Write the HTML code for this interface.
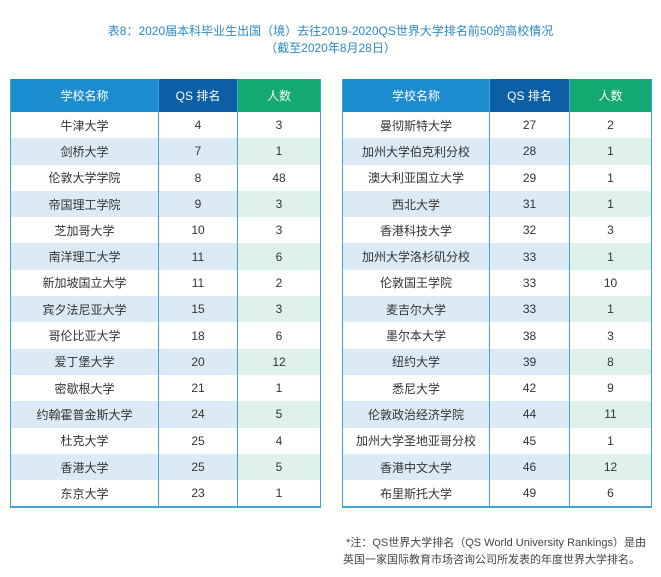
<!DOCTYPE html>
<html><head><meta charset="utf-8"><style>
body{margin:0;width:661px;height:577px;background:#fff;font-family:"Liberation Sans","Noto Sans CJK SC",sans-serif;position:relative;overflow:hidden}
.t{position:absolute;left:0;width:661px;text-align:center;color:#2b8ac6;font-size:12px}
table{position:absolute;top:79px;border-collapse:collapse;font-size:12px;color:#333}
td,th{height:26.3px;padding:0;text-align:center;border-left:1px solid #3fa3dc;border-right:1px solid #3fa3dc}
th{height:33px;color:#fff;font-weight:normal;font-size:12px}
th.a{background:#1b8dcf}th.b{background:#0c5fa5}th.c{background:#14a872}
tr.e td{background:#dbeaf5}tr.e td.c{background:#dff2ea}
table{border-bottom:2px solid #3fa3dc}
.n{position:absolute;left:343px;top:535px;font-size:11px;color:#444;line-height:17px;width:320px}
</style></head><body>
<div class="t" style="top:22px">表8：2020届本科毕业生出国（境）去往2019-2020QS世界大学排名前50的高校情况</div>
<div class="t" style="top:39px">（截至2020年8月28日）</div>
<table style="left:10px">
<tr><th class="a" style="width:147px">学校名称</th><th class="b" style="width:78px">QS 排名</th><th class="c" style="width:82px">人数</th></tr>
<tr><td>牛津大学</td><td>4</td><td class="c">3</td></tr>
<tr class="e"><td>剑桥大学</td><td>7</td><td class="c">1</td></tr>
<tr><td>伦敦大学学院</td><td>8</td><td class="c">48</td></tr>
<tr class="e"><td>帝国理工学院</td><td>9</td><td class="c">3</td></tr>
<tr><td>芝加哥大学</td><td>10</td><td class="c">3</td></tr>
<tr class="e"><td>南洋理工大学</td><td>11</td><td class="c">6</td></tr>
<tr><td>新加坡国立大学</td><td>11</td><td class="c">2</td></tr>
<tr class="e"><td>宾夕法尼亚大学</td><td>15</td><td class="c">3</td></tr>
<tr><td>哥伦比亚大学</td><td>18</td><td class="c">6</td></tr>
<tr class="e"><td>爱丁堡大学</td><td>20</td><td class="c">12</td></tr>
<tr><td>密歇根大学</td><td>21</td><td class="c">1</td></tr>
<tr class="e"><td>约翰霍普金斯大学</td><td>24</td><td class="c">5</td></tr>
<tr><td>杜克大学</td><td>25</td><td class="c">4</td></tr>
<tr class="e"><td>香港大学</td><td>25</td><td class="c">5</td></tr>
<tr><td>东京大学</td><td>23</td><td class="c">1</td></tr>
</table>
<table style="left:342px">
<tr><th class="a" style="width:146px">学校名称</th><th class="b" style="width:79px">QS 排名</th><th class="c" style="width:81px">人数</th></tr>
<tr><td>曼彻斯特大学</td><td>27</td><td class="c">2</td></tr>
<tr class="e"><td>加州大学伯克利分校</td><td>28</td><td class="c">1</td></tr>
<tr><td>澳大利亚国立大学</td><td>29</td><td class="c">1</td></tr>
<tr class="e"><td>西北大学</td><td>31</td><td class="c">1</td></tr>
<tr><td>香港科技大学</td><td>32</td><td class="c">3</td></tr>
<tr class="e"><td>加州大学洛杉矶分校</td><td>33</td><td class="c">1</td></tr>
<tr><td>伦敦国王学院</td><td>33</td><td class="c">10</td></tr>
<tr class="e"><td>麦吉尔大学</td><td>33</td><td class="c">1</td></tr>
<tr><td>墨尔本大学</td><td>38</td><td class="c">3</td></tr>
<tr class="e"><td>纽约大学</td><td>39</td><td class="c">8</td></tr>
<tr><td>悉尼大学</td><td>42</td><td class="c">9</td></tr>
<tr class="e"><td>伦敦政治经济学院</td><td>44</td><td class="c">11</td></tr>
<tr><td>加州大学圣地亚哥分校</td><td>45</td><td class="c">1</td></tr>
<tr class="e"><td>香港中文大学</td><td>46</td><td class="c">12</td></tr>
<tr><td>布里斯托大学</td><td>49</td><td class="c">6</td></tr>
</table>
<div class="n">&nbsp;*注：QS世界大学排名（QS World University Rankings）是由<br>英国一家国际教育市场咨询公司所发表的年度世界大学排名。</div>
</body></html>
